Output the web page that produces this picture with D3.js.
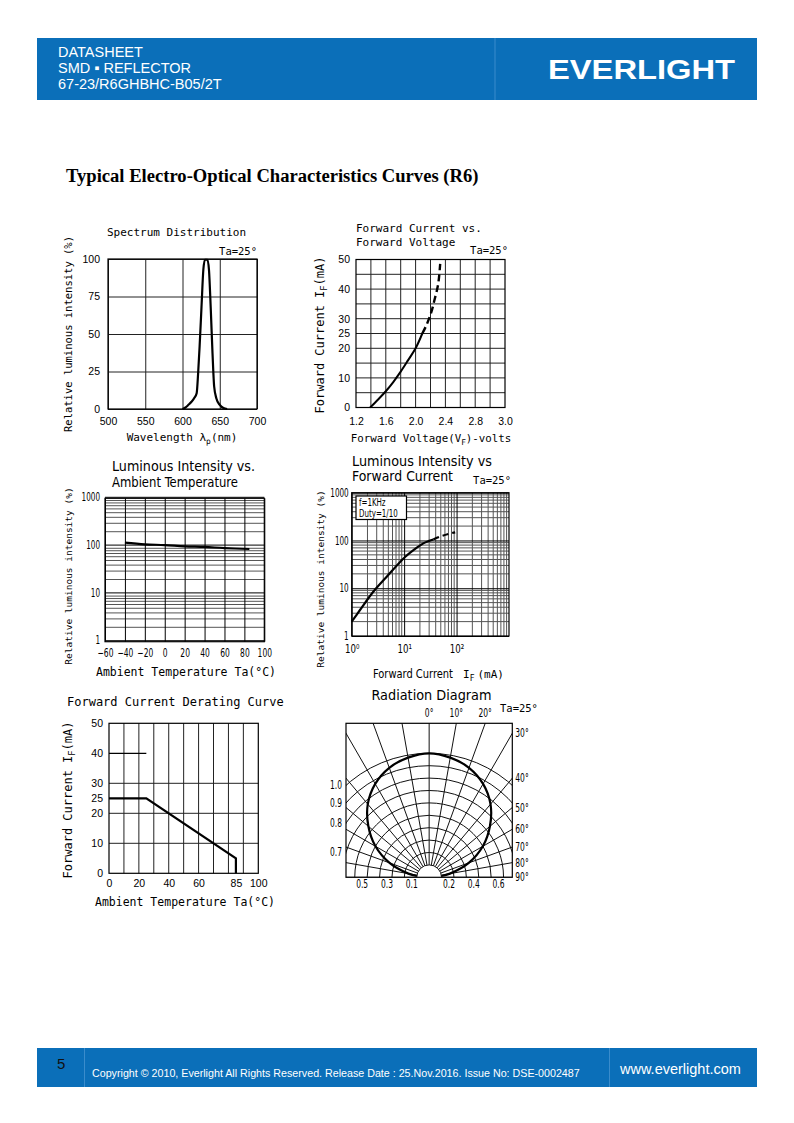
<!DOCTYPE html>
<html><head><meta charset="utf-8">
<script src="https://cdn.jsdelivr.net/npm/d3@7/dist/d3.min.js"></script>
<style>
body{margin:0;background:#fff}
svg{display:block}
</style></head>
<body><svg id="page" width="794" height="1123"></svg>
<script>
// ---------------- DATA ----------------
const headerLines = ["DATASHEET", "SMD \u25AA REFLECTOR", "67-23/R6GHBHC-B05/2T"];
const pageTitle = "Typical Electro-Optical Characteristics Curves (R6)";
const footerText = "Copyright \u00A9 2010, Everlight All Rights Reserved. Release Date : 25.Nov.2016. Issue No: DSE-0002487";

// Spectrum Distribution
const spectrumXTicks = [500, 550, 600, 650, 700];
const spectrumYTicks = [0, 25, 50, 75, 100];
const spectrumWavelength = [600, 604, 608, 612, 616, 619, 621, 623, 625.5, 628, 630, 633.5, 635.5, 638, 640.3, 642.5, 645.5, 650, 655, 660];
const spectrumIntensity  = [0, 1, 2.8, 4.8, 7.5, 10.5, 24, 42, 68, 93, 99.5, 99.5, 93, 66, 37, 15, 7, 2.7, 0.6, 0];

// Forward Current vs Forward Voltage
const fvGridX = [1.4, 1.6, 1.8, 2.0, 2.2, 2.4, 2.6, 2.8, 3.0];
const fvGridY = [5, 10, 15, 20, 25, 30, 35, 40, 45];
const fvXTickValues = [1.2, 1.6, 2.0, 2.4, 2.8, 3.2];
const fvXTickLabels = ["1.2", "1.6", "2.0", "2.4", "2.8", "3.0"];
const fvYTicks = [0, 10, 20, 25, 30, 40, 50];
const fvVoltageSolid = [1.39, 1.5, 1.6, 1.7, 1.8, 1.9, 2.0, 2.09];
const fvCurrentSolid = [0, 2.8, 5.5, 8.6, 12.1, 16.0, 20, 25];
const fvVoltageDashed = [2.09, 2.14, 2.18, 2.22, 2.25, 2.29, 2.31, 2.33];
const fvCurrentDashed = [25, 27.5, 30, 33, 36, 40, 43, 48.5];

// Luminous Intensity vs Ambient Temperature
const ltXTicks = [-60, -40, -20, 0, 20, 40, 60, 80, 100];
const ltYTicks = [1, 10, 100, 1000];
const ltYMinor = [2,3,4,5,6,7,8,9,20,30,40,50,60,70,80,90,200,300,400,500,600,700,800,900];
const ltTemp = [-40, -20, 0, 20, 40, 60, 85];
const ltIntensity = [118, 109, 105, 99, 96, 91, 87];

// Luminous Intensity vs Forward Current
const lcXTicks = [1, 10, 100];
const lcXTickLabels = ["10\u2070", "10\u00B9", "10\u00B2"];
const lcYTicks = [1, 10, 100, 1000];
const lcMinor = [2,3,4,5,6,7,8,9,20,30,40,50,60,70,80,90,200,300,400,500,600,700,800,900];
const lcLegend = ["f=1KHz", "Duty=1/10"];
const lcCurrentSolid = [1, 1.44, 2.58, 4.66, 10.4, 16, 23.2, 30, 36];
const lcIntensitySolid = [2.0, 3.5, 8.45, 17.4, 45, 66, 87, 98, 105];
const lcCurrentDashed = [36, 50, 70, 94];
const lcIntensityDashed = [105, 122, 137, 148];

// Forward Current Derating Curve
const drXTicks = [0, 20, 40, 60, 85, 100];
const drYTicks = [0, 10, 20, 25, 30, 40, 50];
const drGridX = [10, 20, 30, 40, 50, 60, 70, 80, 90];
const drGridY = [10, 20, 30];
const drPartialGrid = [[0, 40], [25, 40]];
const drTemp = [0, 25, 85, 85];
const drCurrent = [25, 25, 5, 0];

// Radiation Diagram
const radRings = [0.1, 0.2, 0.3, 0.4, 0.5, 0.6, 0.7, 0.8, 0.9, 1.0];
const radSpokes = [-90,-80,-70,-60,-50,-40,-30,-20,-10,0,10,20,30,40,50,60,70,80,90];
const radAngles = [-84,-80,-70,-60,-50,-40,-30,-20,-10,0,10,20,30,40,50,60,70,80,84];
const radIntensity = [0.10,0.17,0.34,0.50,0.64,0.77,0.87,0.94,0.98,1.00,0.98,0.94,0.87,0.77,0.64,0.50,0.34,0.17,0.10];
const radTopAngles = [0, 10, 20];
const radRightAngles = [30, 40, 50, 60, 70, 80, 90];
const radLeftValues = [1.0, 0.9, 0.8, 0.7];
const radLeftLabels = ["1.0", "0.9", "0.8", "0.7"];
const radBottomValues = [-0.5, -0.3, -0.1, 0.2, 0.4, 0.6];
const radBottomLabels = ["0.5", "0.3", "0.1", "0.2", "0.4", "0.6"];

// ---------------- STYLE ----------------
const BLUE = "#0b6fb9";
const NARROW = "'Liberation Sans Narrow','DejaVu Sans Condensed','Arial Narrow',sans-serif";
const MONO = "'DejaVu Sans Mono','Liberation Mono',monospace";
const SANS = "'Liberation Sans',Arial,sans-serif";
const SERIF = "'Liberation Serif','Times New Roman',serif";
const SQ = 0.7; // horizontal squeeze for narrow labels

const svg = d3.select("#page");

function txt(g, s, x, y, o = {}) {
  const t = g.append("text")
    .attr("font-family", o.font || MONO).attr("font-size", o.fs || 11)
    .attr("fill", o.fill || "#000").attr("text-anchor", o.anchor || "start");
  if (o.sx) t.attr("x", 0).attr("y", 0).attr("transform", `translate(${x},${y}) scale(${o.sx},1)`);
  else t.attr("x", x).attr("y", y);
  if (o.weight) t.attr("font-weight", o.weight);
  if (o.rotate) t.attr("transform", `rotate(-90,${x},${y})`);
  if (o.len) t.attr("textLength", o.len).attr("lengthAdjust", "spacingAndGlyphs");
  if (s !== null) t.text(s);
  return t;
}
function drawAxis(g, axis, tx, ty, o = {}) {
  const a = g.append("g").attr("transform", `translate(${tx},${ty})`).call(axis);
  a.select(".domain").remove();
  a.selectAll(".tick line").attr("stroke", o.grid || "#222").attr("stroke-width", o.gw || 1);
  a.selectAll(".tick text").attr("font-family", o.font || SANS).attr("font-size", o.fs || 10.5).attr("fill", "#000");
  if (o.sx) {
    a.selectAll(".tick text").each(function () {
      const t = d3.select(this);
      const x0 = +t.attr("x") || 0, y0 = +t.attr("y") || 0;
      t.attr("x", 0).attr("y", 0).attr("transform", `translate(${x0},${y0}) scale(${o.sx},1)`);
    });
  }
  return a;
}
function frame(g, b) {
  g.append("rect").attr("x", b.x).attr("y", b.y).attr("width", b.w).attr("height", b.h)
    .attr("fill", "none").attr("stroke", "#000").attr("stroke-width", 1.2);
}
function subText(g, parts, x, y, o) {
  const t = txt(g, null, x, y, o);
  t.append("tspan").text(parts[0]);
  t.append("tspan").attr("dy", 3).attr("font-size", (o.fs || 11) * 0.72).text(parts[1]);
  t.append("tspan").attr("dy", -3).text(parts[2]);
  return t;
}

// ---------------- HEADER ----------------
svg.append("rect").attr("x", 37).attr("y", 38).attr("width", 720).attr("height", 62).attr("fill", BLUE);
svg.append("line").attr("x1", 495).attr("x2", 495).attr("y1", 38).attr("y2", 100).attr("stroke", "#3a8ccc").attr("stroke-width", 1);
headerLines.forEach((s, i) => txt(svg, s, 58, 57 + i * 16, { font: SANS, fs: 14.5, fill: "#fff" }));
txt(svg, "EVERLIGHT", 548, 78.5, { font: SANS, fs: 27.5, fill: "#fff", weight: "bold", len: 187 });

txt(svg, pageTitle, 66, 182, { font: SERIF, fs: 18.6, weight: "bold" });

// ---------------- SPECTRUM ----------------
{
  const b = { x: 108, y: 259, w: 149, h: 150 };
  const g = svg.append("g");
  const x = d3.scaleLinear().domain([500, 700]).range([b.x, b.x + b.w]);
  const y = d3.scaleLinear().domain([0, 100]).range([b.y + b.h, b.y]);
  drawAxis(g, d3.axisBottom(x).tickValues(spectrumXTicks).tickSize(-b.h).tickPadding(9).tickFormat(d3.format("d")), 0, b.y + b.h);
  drawAxis(g, d3.axisLeft(y).tickValues(spectrumYTicks).tickSize(-b.w).tickPadding(8).tickFormat(d3.format("d")), b.x, 0);
  frame(g, b);
  g.append("path").datum(d3.zip(spectrumWavelength, spectrumIntensity))
    .attr("d", d3.line().x(d => x(d[0])).y(d => y(d[1])).curve(d3.curveMonotoneX))
    .attr("fill", "none").attr("stroke", "#000").attr("stroke-width", 2.2);
  txt(g, "Spectrum Distribution", 107, 236, { fs: 11 });
  txt(g, "Ta=25\u00B0", 257, 255, { fs: 10.5, anchor: "end" });
  subText(g, ["Wavelength \u03BB", "p", "(nm)"], 182, 441, { fs: 11, anchor: "middle" });
  txt(g, "Relative luminous intensity (%)", 72, 334, { fs: 10.5, anchor: "middle", rotate: true });
}

// ---------------- FORWARD CURRENT vs VOLTAGE ----------------
{
  const b = { x: 356, y: 259.5, w: 149, h: 148 };
  const g = svg.append("g");
  const x = d3.scaleLinear().domain([1.2, 3.2]).range([b.x, b.x + b.w]);
  const y = d3.scaleLinear().domain([0, 50]).range([b.y + b.h, b.y]);
  g.selectAll(".gx").data(fvGridX).join("line").attr("x1", d => x(d)).attr("x2", d => x(d))
    .attr("y1", b.y).attr("y2", b.y + b.h).attr("stroke", "#222").attr("stroke-width", 1);
  g.selectAll(".gy").data(fvGridY).join("line").attr("y1", d => y(d)).attr("y2", d => y(d))
    .attr("x1", b.x).attr("x2", b.x + b.w).attr("stroke", "#222").attr("stroke-width", 1);
  drawAxis(g, d3.axisBottom(x).tickValues(fvXTickValues).tickSize(0).tickPadding(10).tickFormat((d, i) => fvXTickLabels[i]), 0, b.y + b.h);
  drawAxis(g, d3.axisLeft(y).tickValues(fvYTicks).tickSize(0).tickPadding(6), b.x, 0);
  frame(g, b);
  const ln = d3.line().x(d => x(d[0])).y(d => y(d[1])).curve(d3.curveCatmullRom);
  g.append("path").datum(d3.zip(fvVoltageSolid, fvCurrentSolid)).attr("d", ln)
    .attr("fill", "none").attr("stroke", "#000").attr("stroke-width", 2);
  g.append("path").datum(d3.zip(fvVoltageDashed, fvCurrentDashed)).attr("d", ln)
    .attr("fill", "none").attr("stroke", "#000").attr("stroke-width", 2.4).attr("stroke-dasharray", "7,4");
  txt(g, "Forward Current vs.", 356, 232, { fs: 11 });
  txt(g, "Forward Voltage", 356, 246, { fs: 11 });
  txt(g, "Ta=25\u00B0", 508, 254, { fs: 10.5, anchor: "end" });
  subText(g, ["Forward Voltage(V", "F", ")-volts"], 431, 442, { fs: 10.8, anchor: "middle" });
  subText(g, ["Forward Current I", "F", "(mA)"], 324, 335, { fs: 12, anchor: "middle", rotate: true });
}

// ---------------- LUMINOUS vs TEMPERATURE ----------------
{
  const b = { x: 105, y: 498.3, w: 159.3, h: 143.4 };
  const g = svg.append("g");
  const x = d3.scaleLinear().domain([-60, 100]).range([b.x, b.x + b.w]);
  const y = d3.scaleLog().domain([1, 1000]).range([b.y + b.h, b.y]);
  g.selectAll(".mn").data(ltYMinor).join("line").attr("y1", d => y(d)).attr("y2", d => y(d))
    .attr("x1", b.x).attr("x2", b.x + b.w).attr("stroke", "#555").attr("stroke-width", 1);
  drawAxis(g, d3.axisBottom(x).tickValues(ltXTicks).tickSize(-b.h).tickPadding(7).tickFormat(d3.format("d")), 0, b.y + b.h, { font: NARROW, fs: 12, grid: "#000", sx: SQ });
  drawAxis(g, d3.axisLeft(y).tickValues(ltYTicks).tickSize(-b.w).tickPadding(5).tickFormat(d3.format("d")), b.x, -1.5, { font: NARROW, fs: 11.5, grid: "#000", sx: SQ });
  frame(g, b);
  g.append("path").datum(d3.zip(ltTemp, ltIntensity))
    .attr("d", d3.line().x(d => x(d[0])).y(d => y(d[1])).curve(d3.curveCatmullRom))
    .attr("fill", "none").attr("stroke", "#000").attr("stroke-width", 2.2);
  txt(g, "Luminous Intensity vs.", 112, 471, { font: NARROW, fs: 13.5, len: 143 });
  txt(g, "Ambient Temperature", 112, 487, { font: NARROW, fs: 13.5, len: 126 });
  txt(g, "Ambient Temperature Ta(\u00B0C)", 186, 676, { fs: 11.5, anchor: "middle" });
  txt(g, "Relative luminous intensity (%)", 71.5, 576, { fs: 9.5, anchor: "middle", rotate: true });
}

// ---------------- LUMINOUS vs FORWARD CURRENT ----------------
{
  const b = { x: 351.7, y: 492.7, w: 157.3, h: 143.3 };
  const g = svg.append("g");
  const x = d3.scaleLog().domain([1, 1000]).range([b.x, b.x + b.w]);
  const y = d3.scaleLog().domain([1, 1000]).range([b.y + b.h, b.y]);
  g.selectAll(".mx").data(lcMinor).join("line").attr("x1", d => x(d)).attr("x2", d => x(d))
    .attr("y1", b.y).attr("y2", b.y + b.h).attr("stroke", "#555").attr("stroke-width", 1);
  g.selectAll(".my").data(lcMinor).join("line").attr("y1", d => y(d)).attr("y2", d => y(d))
    .attr("x1", b.x).attr("x2", b.x + b.w).attr("stroke", "#555").attr("stroke-width", 1);
  drawAxis(g, d3.axisBottom(x).tickValues(lcXTicks).tickSize(-b.h).tickPadding(8).tickFormat((d, i) => lcXTickLabels[i]), 0, b.y + b.h, { font: NARROW, fs: 12, grid: "#000", sx: 0.8 });
  drawAxis(g, d3.axisLeft(y).tickValues(lcYTicks).tickSize(-b.w).tickPadding(3).tickFormat(d3.format("d")), b.x, 0, { font: NARROW, fs: 11.5, grid: "#000", sx: SQ });
  frame(g, b);
  g.append("rect").attr("x", 356).attr("y", 496).attr("width", 50.5).attr("height", 23.5)
    .attr("fill", "#fff").attr("stroke", "#000").attr("stroke-width", 1.2);
  lcLegend.forEach((s, i) => txt(g, s, 359, 506 + i * 11, { font: NARROW, fs: 10.5, sx: 0.75 }));
  const ln = d3.line().x(d => x(d[0])).y(d => y(d[1])).curve(d3.curveCatmullRom);
  g.append("path").datum(d3.zip(lcCurrentSolid, lcIntensitySolid)).attr("d", ln)
    .attr("fill", "none").attr("stroke", "#000").attr("stroke-width", 2.2);
  g.append("path").datum(d3.zip(lcCurrentDashed, lcIntensityDashed)).attr("d", ln)
    .attr("fill", "none").attr("stroke", "#000").attr("stroke-width", 2.2).attr("stroke-dasharray", "6,4");
  txt(g, "Luminous Intensity vs", 352, 466, { font: NARROW, fs: 13.5, len: 140 });
  txt(g, "Forward Current", 352, 481, { font: NARROW, fs: 13.5, len: 101 });
  txt(g, "Ta=25\u00B0", 511, 484, { fs: 10.5, anchor: "end" });
  txt(g, "Forward Current", 373, 678, { font: NARROW, fs: 12.5, len: 80 });
  const it = txt(g, null, 463, 678, { fs: 11 });
  it.append("tspan").text("I");
  it.append("tspan").attr("dy", 3).attr("font-size", 8).text("F");
  it.append("tspan").attr("dy", -3).attr("dx", 3).text("(mA)");
  txt(g, "Relative luminous intensity (%)", 323.5, 579, { fs: 9.5, anchor: "middle", rotate: true });
}

// ---------------- DERATING ----------------
{
  const b = { x: 109, y: 723.3, w: 149.3, h: 150 };
  const g = svg.append("g");
  const x = d3.scaleLinear().domain([0, 100]).range([b.x, b.x + b.w]);
  const y = d3.scaleLinear().domain([0, 50]).range([b.y + b.h, b.y]);
  g.selectAll(".gx").data(drGridX).join("line").attr("x1", d => x(d)).attr("x2", d => x(d))
    .attr("y1", b.y).attr("y2", b.y + b.h).attr("stroke", "#222").attr("stroke-width", 1);
  g.selectAll(".gy").data(drGridY).join("line").attr("y1", d => y(d)).attr("y2", d => y(d))
    .attr("x1", b.x).attr("x2", b.x + b.w).attr("stroke", "#222").attr("stroke-width", 1);
  g.append("path").datum(drPartialGrid).attr("d", d3.line().x(d => x(d[0])).y(d => y(d[1])))
    .attr("stroke", "#000").attr("stroke-width", 1.2);
  drawAxis(g, d3.axisBottom(x).tickValues(drXTicks).tickSize(0).tickPadding(6), 0, b.y + b.h);
  drawAxis(g, d3.axisLeft(y).tickValues(drYTicks).tickSize(0).tickPadding(6), b.x, 0);
  frame(g, b);
  g.append("path").datum(d3.zip(drTemp, drCurrent))
    .attr("d", d3.line().x(d => x(d[0])).y(d => y(d[1])))
    .attr("fill", "none").attr("stroke", "#000").attr("stroke-width", 2.2);
  txt(g, "Forward Current Derating Curve", 67, 706, { fs: 12 });
  txt(g, "Ambient Temperature Ta(\u00B0C)", 185, 906, { fs: 11.5, anchor: "middle" });
  subText(g, ["Forward Current I", "F", "(mA)"], 72, 800, { fs: 12, anchor: "middle", rotate: true });
}

// ---------------- RADIATION DIAGRAM ----------------
{
  const b = { x: 346, y: 723.3, w: 166.3, h: 154 };
  const cx = b.x + b.w / 2, cy = b.y + b.h;
  const g = svg.append("g");
  const r = d3.scaleLinear().domain([0, 1]).range([0, 124]);
  svg.append("defs").append("clipPath").attr("id", "radclip")
    .append("rect").attr("x", b.x).attr("y", b.y).attr("width", b.w).attr("height", b.h);
  const c = g.append("g").attr("clip-path", "url(#radclip)");
  c.selectAll(".ring").data(radRings).join("circle").attr("cx", cx).attr("cy", cy).attr("r", d => r(d))
    .attr("fill", "none").attr("stroke", "#111").attr("stroke-width", 1);
  const rad = Math.PI / 180;
  c.selectAll(".spoke").data(radSpokes).join("line")
    .attr("x1", d => cx + r(radRings[0]) * Math.sin(d * rad)).attr("y1", d => cy - r(radRings[0]) * Math.cos(d * rad))
    .attr("x2", d => cx + r(2) * Math.sin(d * rad)).attr("y2", d => cy - r(2) * Math.cos(d * rad))
    .attr("stroke", "#111").attr("stroke-width", 1);
  c.append("path").datum(d3.zip(radAngles, radIntensity))
    .attr("transform", `translate(${cx},${cy})`)
    .attr("d", d3.lineRadial().angle(d => d[0] * rad).radius(d => r(d[1])).curve(d3.curveCatmullRom))
    .attr("fill", "none").attr("stroke", "#000").attr("stroke-width", 2.2);
  frame(g, b);
  const half = b.w / 2;
  radTopAngles.forEach(a => txt(g, a + "\u00B0", cx + b.h * Math.tan(a * rad), 717, { font: NARROW, fs: 12, anchor: "middle", sx: SQ }));
  radRightAngles.forEach(a => txt(g, a + "\u00B0", b.x + b.w + 3, Math.max(cy - half / Math.tan(a * rad), b.y) + 4, { font: NARROW, fs: 12, sx: SQ }));
  radLeftValues.forEach((v, i) => txt(g, radLeftLabels[i], b.x - 4, cy - Math.sqrt(r(v) * r(v) - half * half) + 4, { font: NARROW, fs: 12, anchor: "end", sx: SQ }));
  radBottomValues.forEach((v, i) => txt(g, radBottomLabels[i], cx + Math.sign(v) * r(Math.abs(v)) + 1, 888, { font: NARROW, fs: 12, anchor: "end", sx: SQ }));
  txt(g, "Radiation Diagram", 371.5, 700, { font: NARROW, fs: 13.5, len: 120 });
  txt(g, "Ta=25\u00B0", 500, 712, { fs: 10.5 });
}

// ---------------- FOOTER ----------------
svg.append("rect").attr("x", 37).attr("y", 1048).attr("width", 720).attr("height", 39).attr("fill", BLUE);
[84.5, 609.5].forEach(xx => svg.append("line").attr("x1", xx).attr("x2", xx).attr("y1", 1048).attr("y2", 1087)
  .attr("stroke", "#3a8ccc").attr("stroke-width", 1));
txt(svg, "5", 57, 1069, { font: SANS, fs: 15, fill: "#111" });
txt(svg, footerText, 92, 1077, { font: SANS, fs: 10.7, fill: "#fff" });
txt(svg, "www.everlight.com", 620, 1074, { font: SANS, fs: 14.5, fill: "#fff" });
</script>
</body></html>
